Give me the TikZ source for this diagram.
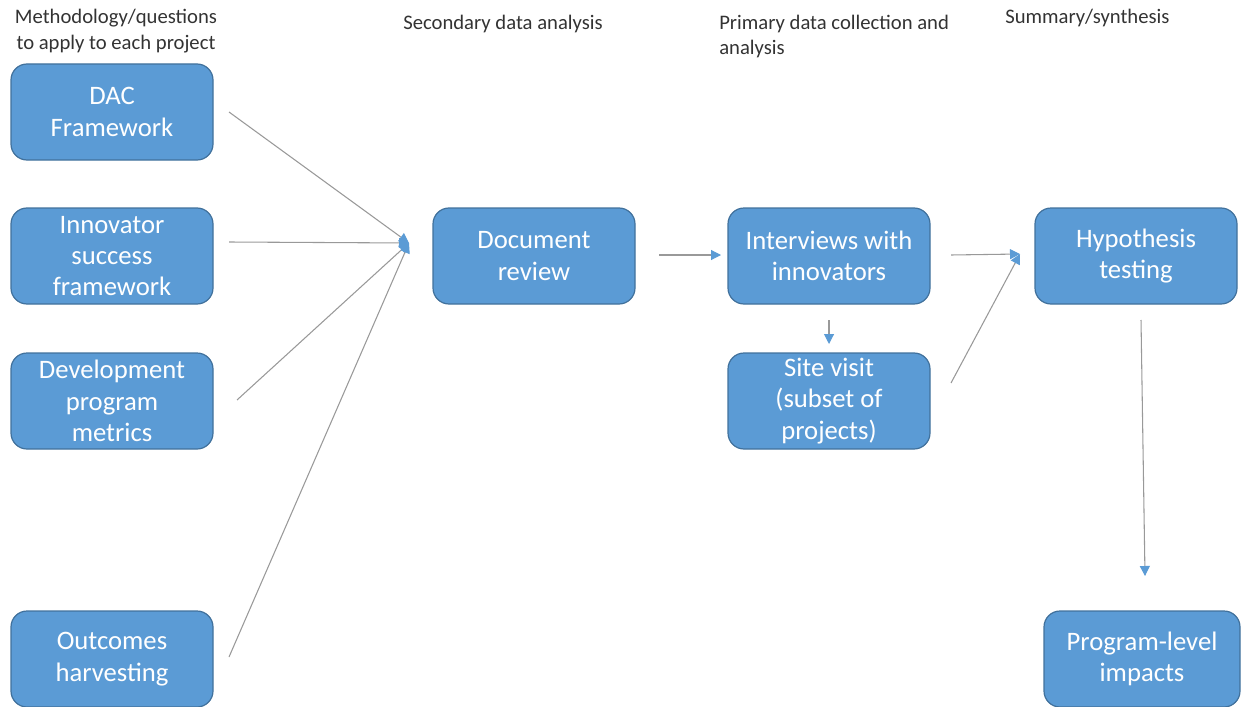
\documentclass[tikz,border=0pt]{standalone}
\usepackage{fontspec}
\setmainfont{Carlito}
\usetikzlibrary{arrows.meta}
\definecolor{boxblue}{HTML}{5B9BD5}
\definecolor{boxedge}{HTML}{41719C}
\definecolor{linegray}{HTML}{999999}
\begin{document}
\begin{tikzpicture}[x=0.75pt,y=-0.75pt,
  box/.style={draw=boxedge, line width=0.9pt, fill=boxblue, rounded corners=12pt,
    minimum width=151.5pt, minimum height=72pt, align=center, text=white,
    font=\fontsize{20}{23.5}\selectfont, inner sep=2pt},
  head/.style={font=\fontsize{15.5}{19}\selectfont, text=black!80, inner sep=0pt},
  conn/.style={draw=linegray, line width=0.8pt, -{Triangle[length=7.5pt,width=7.5pt,color=boxblue]}}]
\useasboundingbox (0,0) rectangle (1244,706);
% headers
\node[head, align=center] (h1) at (116,31) {Methodology/questions\\to apply to each project};
\node[head, anchor=west] (h2) at (403,24) {Secondary data analysis};
\node[head, anchor=north west, align=left] (h3) at (719,15) {Primary data collection and\\analysis};
\node[head, anchor=west] (h4) at (1005,18) {Summary/synthesis};
% boxes
\node[box] (dac) at (112,112) {DAC\\Framework};
\node[box] (inn) at (112,256) {Innovator\\success\\framework};
\node[box] (dev) at (112,401) {Development\\program\\metrics};
\node[box] (out) at (112,659) {Outcomes\\harvesting};
\node[box] (doc) at (534,256) {Document\\review};
\node[box] (int) at (829,256) {Interviews with\\innovators};
\node[box] (site) at (829,401) {Site visit\\(subset of\\projects)};
\node[box] (hyp) at (1136,256) {Hypothesis\\testing};
\node[box, minimum width=147pt] (prog) at (1142,659) {Program-level\\impacts};
% connector end points
\coordinate (hub) at (409,243);
\coordinate (s1) at (229,112);
\coordinate (s2) at (229,242);
\coordinate (s3) at (237,400);
\coordinate (s4) at (229,657);
\coordinate (d1) at (659,255);
\coordinate (d2) at (721,255);
\coordinate (i1) at (829,320);
\coordinate (i2) at (829,344);
\coordinate (h1s) at (951,255);
\coordinate (h2s) at (951,383);
\coordinate (hh) at (1020,254);
\coordinate (p1) at (1141,320);
\coordinate (p2) at (1145,576);
% connectors
\draw[conn] (s1) -- (hub);
\draw[conn] (s2) -- (hub);
\draw[conn] (s3) -- (hub);
\draw[conn] (s4) -- (hub);
\draw[conn] (d1) -- (d2);
\draw[conn] (i1) -- (i2);
\draw[conn] (h1s) -- (hh);
\draw[conn] (h2s) -- (hh);
\draw[conn] (p1) -- (p2);
\end{tikzpicture}
\end{document}
